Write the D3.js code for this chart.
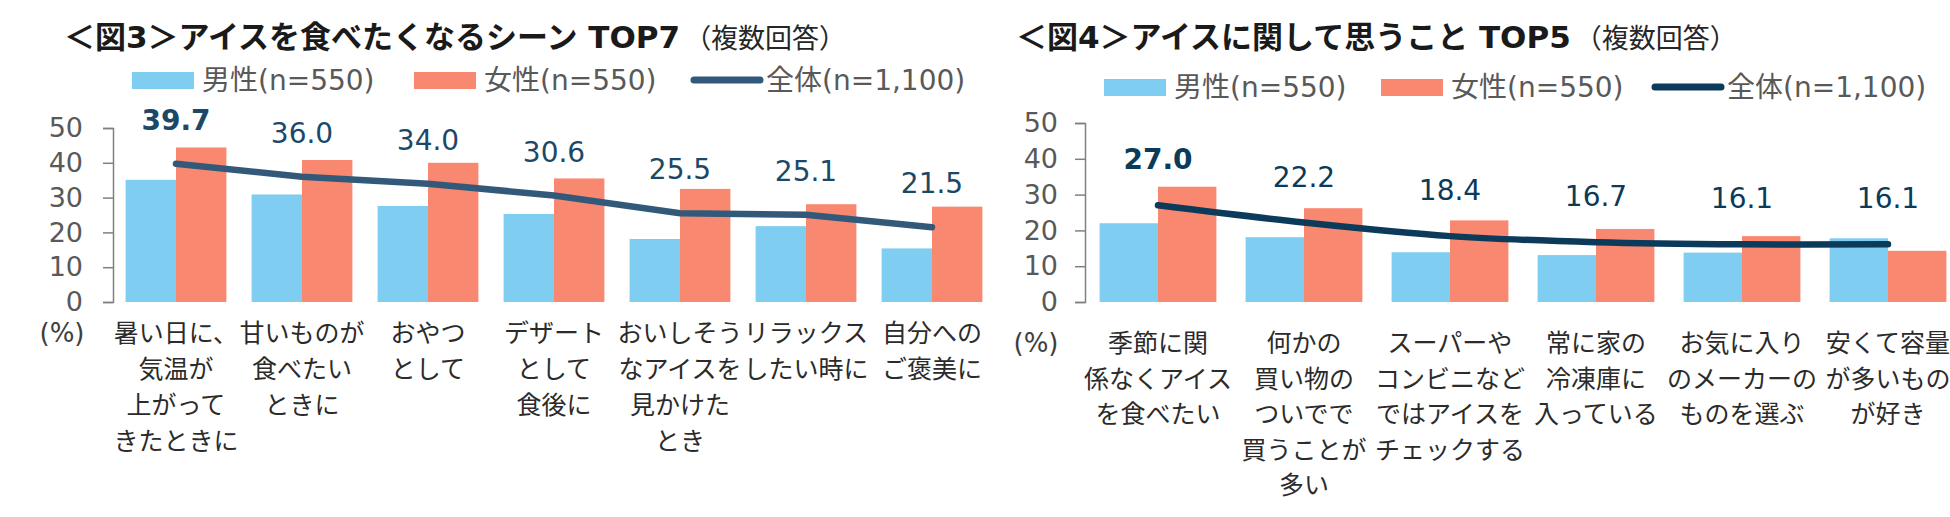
<!DOCTYPE html>
<html>
<head>
<meta charset="utf-8">
<script src="https://cdn.jsdelivr.net/npm/d3@7"></script>
<style>
  body { margin: 0; background: #fff; }
  text { font-family: "DejaVu Sans", "Noto Sans CJK JP", sans-serif; }
</style>
</head>
<body>
<div class="canvas"></div>
<script>
// data: fig 3
const cats3 = ['暑い日に、\n気温が\n上がって\nきたときに', '甘いものが\n食べたい\nときに', 'おやつ\nとして',
               'デザート\nとして\n食後に', 'おいしそう\nなアイスを\n見かけた\nとき', 'リラックス\nしたい時に', '自分への\nご褒美に']
const male3 = [35.1, 30.9, 27.6, 25.3, 18.1, 21.8, 15.4]
const female3 = [44.4, 40.8, 40.0, 35.5, 32.5, 28.1, 27.4]
const total3 = [39.7, 36.0, 34.0, 30.6, 25.5, 25.1, 21.5]

// data: fig 4
const cats4 = ['季節に関\n係なくアイス\nを食べたい', '何かの\n買い物の\nついでで\n買うことが\n多い', 'スーパーや\nコンビニなど\nではアイスを\nチェックする',
               '常に家の\n冷凍庫に\n入っている', 'お気に入り\nのメーカーの\nものを選ぶ', '安くて容量\nが多いもの\nが好き']
const male4 = [22.0, 18.1, 13.9, 13.1, 13.8, 17.8]
const female4 = [32.2, 26.2, 22.8, 20.4, 18.4, 14.3]
const total4 = [27.0, 22.2, 18.4, 16.7, 16.1, 16.1]

const yTicks = [0, 10, 20, 30, 40, 50]
const legendLabels = ['男性(n=550)', '女性(n=550)', '全体(n=1,100)']

const maleColor = '#80cdf2'
const femaleColor = '#f98870'

const svg = d3.select('.canvas').append('svg')
    .attr('width', 1950)
    .attr('height', 517)

const drawChart = (cfg) => {
    const g = svg.append('g')

    // title
    const title = g.append('text')
        .attr('x', cfg.titleX)
        .attr('y', 48)
        .attr('fill', '#1a1a1a')
    title.append('tspan')
        .attr('font-size', 31)
        .attr('font-weight', 'bold')
        .text(cfg.title)
    title.append('tspan')
        .attr('font-size', 27)
        .attr('font-family', '"Noto Sans CJK JP", sans-serif')
        .attr('fill', '#262626')
        .attr('dx', 4)
        .text('（複数回答）')

    // legend
    const lg = g.append('g').attr('transform', `translate(0, ${cfg.legendY})`)
    lg.append('rect').attr('x', cfg.legendX[0]).attr('y', -8).attr('width', 62).attr('height', 17).attr('fill', maleColor)
    lg.append('rect').attr('x', cfg.legendX[1]).attr('y', -8).attr('width', 62).attr('height', 17).attr('fill', femaleColor)
    lg.append('line').attr('x1', cfg.legendX[2]).attr('x2', cfg.legendX[2] + 66)
        .attr('y1', 0).attr('y2', 0)
        .attr('stroke', cfg.lineColor).attr('stroke-width', 7).attr('stroke-linecap', 'round')
    legendLabels.forEach((t, i) => {
        lg.append('text')
            .attr('x', cfg.legendX[i] + (i == 2 ? 72 : 70))
            .attr('y', 10)
            .attr('font-size', 28)
            .attr('fill', '#595959')
            .text(t)
    })

    // scales
    const y = d3.scaleLinear()
        .domain([0, 50])
        .range([302, cfg.yTop])

    const x = d3.scaleBand()
        .domain(cfg.cats)
        .range(cfg.xRange)
        .paddingInner(0.2)
        .paddingOuter(0.1)

    const half = x.bandwidth() / 2

    // y axis
    const yAxis = d3.axisLeft(y)
        .tickValues(yTicks)
        .tickSize(10)
        .tickPadding(cfg.tickPad)
    const ax = g.append('g')
        .attr('transform', `translate(${cfg.xRange[0]}, 0)`)
        .call(yAxis)
    ax.select('.domain').attr('stroke', '#808080').attr('stroke-width', 1.5)
    ax.selectAll('.tick line').attr('stroke', '#808080').attr('stroke-width', 1.5)
    ax.selectAll('.tick text')
        .attr('font-size', 27)
        .attr('font-family', '"DejaVu Sans", sans-serif')
        .attr('fill', '#595959')

    // bars
    g.selectAll('rect.male')
        .data(cfg.male)
        .enter().append('rect')
        .attr('class', 'male')
        .attr('x', (d, i) => x(cfg.cats[i]))
        .attr('y', d => y(d))
        .attr('width', half)
        .attr('height', d => y(0) - y(d))
        .attr('fill', maleColor)

    g.selectAll('rect.female')
        .data(cfg.female)
        .enter().append('rect')
        .attr('class', 'female')
        .attr('x', (d, i) => x(cfg.cats[i]) + half)
        .attr('y', d => y(d))
        .attr('width', half)
        .attr('height', d => y(0) - y(d))
        .attr('fill', femaleColor)

    // total line
    const line = d3.line()
        .x((d, i) => x(cfg.cats[i]) + half)
        .y(d => y(d))
        .curve(cfg.curve)

    g.append('path')
        .datum(cfg.total)
        .attr('d', line)
        .attr('fill', 'none')
        .attr('stroke', cfg.lineColor)
        .attr('stroke-width', 6.5)
        .attr('stroke-linecap', 'round')

    // value labels
    g.selectAll('text.val')
        .data(cfg.total)
        .enter().append('text')
        .attr('class', 'val')
        .attr('x', (d, i) => x(cfg.cats[i]) + half)
        .attr('y', d => y(d) - cfg.labelGap)
        .attr('text-anchor', 'middle')
        .attr('font-size', 28)
        .attr('font-weight', (d, i) => i == 0 ? 'bold' : 'normal')
        .attr('fill', cfg.labelColor)
        .text(d => d.toFixed(1))

    // category labels
    cfg.cats.forEach((c, i) => {
        const t = g.append('text')
            .attr('x', x(c) + half)
            .attr('y', cfg.catY)
            .attr('text-anchor', 'middle')
            .attr('font-size', 25)
            .attr('fill', '#2b2b2b')
        c.split('\n').forEach((s, j) => {
            t.append('tspan')
                .attr('x', x(c) + half)
                .attr('y', cfg.catY + j * cfg.catStep)
                .text(s)
        })
    })

    // (%) unit
    g.append('text')
        .attr('x', cfg.unitX)
        .attr('y', cfg.catY)
        .attr('text-anchor', 'middle')
        .attr('font-size', 26)
        .attr('fill', '#404040')
        .text('(%)')
}

drawChart({
    title: '＜図3＞アイスを食べたくなるシーン TOP7',
    titleX: 64,
    legendY: 80,
    legendX: [132, 414, 694],
    cats: cats3, male: male3, female: female3, total: total3,
    xRange: [113, 995],
    yTop: 128,
    tickPad: 20,
    curve: d3.curveLinear,
    lineColor: '#33597a',
    labelColor: '#1c4868',
    labelGap: 34,
    catY: 342,
    catStep: 36,
    unitX: 62
})

drawChart({
    title: '＜図4＞アイスに関して思うこと TOP5',
    titleX: 1016,
    legendY: 87,
    legendX: [1104, 1381, 1655],
    cats: cats4, male: male4, female: female4, total: total4,
    xRange: [1085, 1961],
    yTop: 123,
    tickPad: 17,
    curve: d3.curveCatmullRom,
    lineColor: '#0c3a5a',
    labelColor: '#0c3a5a',
    labelGap: 36,
    catY: 352,
    catStep: 35.5,
    unitX: 1036
})
</script>
</body>
</html>
